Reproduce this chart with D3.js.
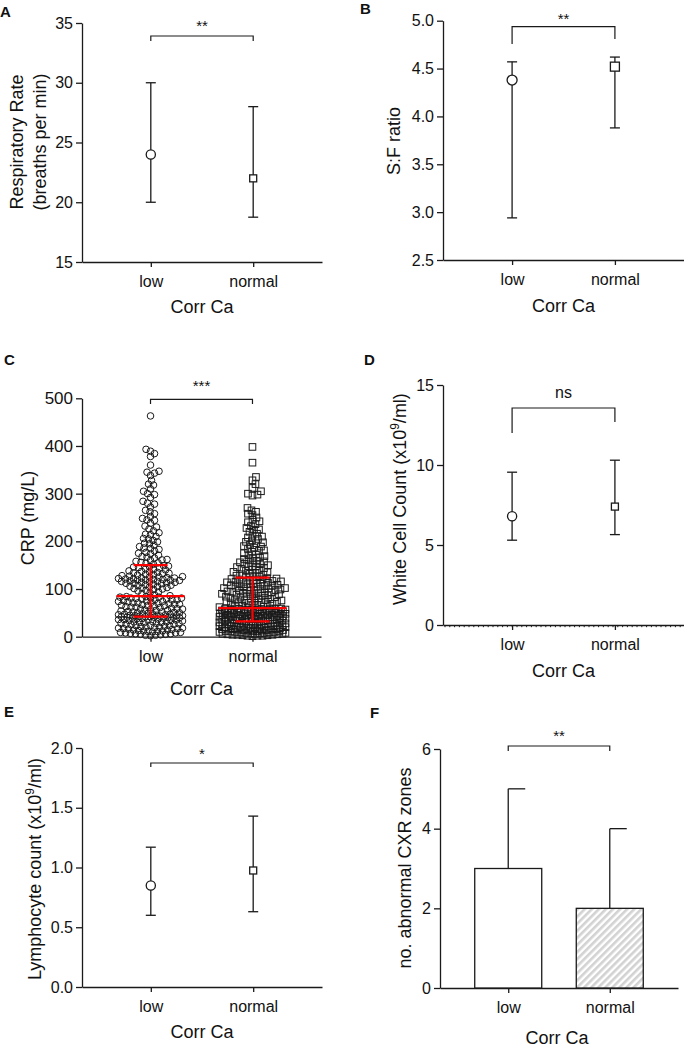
<!DOCTYPE html>
<html><head><meta charset="utf-8">
<script src="https://cdn.jsdelivr.net/npm/d3@7"></script>
<style>
body{margin:0;background:#fff}
svg{display:block}
text{font-family:"Liberation Sans",Arial,Helvetica,sans-serif;fill:#111}
</style>
</head><body>
<svg id="c" width="684" height="1047"></svg>
<script>
// ---------------- DATA ----------------
const categories = ["low", "normal"];
const xTitle = "Corr Ca";
const panelLetters = ["A", "B", "C", "D", "E", "F"];
const sigLabels = ["**", "**", "***", "ns", "*", "**"];

// A: Respiratory rate (median, IQR)
const rrMedian = [24, 22];
const rrLow = [20, 18.75];
const rrHigh = [30, 28];
const rrTicks = [15, 20, 25, 30, 35];

// B: S:F ratio
const sfMedian = [4.38, 4.52];
const sfLow = [2.94, 3.88];
const sfHigh = [4.57, 4.62];
const sfTicks = [2.5, 3.0, 3.5, 4.0, 4.5, 5.0];

// C: CRP individual values
const crpLow = [
  2,3,3,4,5,5,6,6,7,8,8,9,9,10,11,11,12,12,13,14,14,15,16,17,17,18,18,19,20,20,21,22,
  23,23,24,25,26,26,27,28,28,29,30,30,31,31,32,33,34,34,35,35,36,36,37,38,38,39,39,40,
  40,41,41,41,42,
  42,42,43,43,44,44,44,45,45,46,46,47,47,48,48,49,50,50,51,52,52,53,54,55,55,56,57,58,
  58,59,60,61,62,62,63,64,65,65,66,67,68,68,69,70,71,71,72,73,74,74,75,76,77,77,78,79,
  79,80,81,81,82,83,83,84,84,
  86,88,90,92,94,96,97,99,100,101,102,103,104,105,106,107,108,109,110,111,112,112,113,
  114,114,115,116,116,117,118,118,119,119,120,120,121,121,122,123,123,124,125,125,126,
  127,128,129,130,131,132,133,134,135,136,137,138,140,141,142,144,145,146,147,148,149,
  152,154,155,156,158,160,161,162,165,167,168,171,174,175,177,180,183,185,186,189,192,
  195,196,199,202,205,206,210,214,215,218,222,226,230,232,238,244,245,248,252,258,262,
  265,272,278,280,284,292,298,300,305,310,318,320,328,338,343,345,347,360,378,384,389,
  393,463
];
const crpNormal = [
  1,2,2,2,3,3,4,4,4,5,5,6,6,6,7,7,8,8,8,9,9,10,10,10,11,11,12,12,12,13,13,14,14,14,15,
  15,16,16,16,17,17,18,18,18,19,19,20,20,20,21,21,22,22,22,23,23,24,24,24,25,25,26,26,
  26,27,27,28,28,28,29,29,30,30,31,32,
  32,33,33,33,34,34,34,35,35,36,36,36,37,37,38,38,38,38,39,39,40,40,40,41,41,42,42,42,
  43,43,44,44,44,44,45,45,46,46,46,47,47,48,48,48,49,49,50,50,50,50,51,51,52,52,52,53,
  53,54,54,54,55,55,55,56,56,56,57,57,57,58,58,58,59,59,59,
  61,62,63,64,65,66,67,68,69,70,71,72,72,73,74,75,76,76,77,78,79,80,80,81,82,83,84,85,
  85,86,87,88,89,90,90,91,92,93,94,95,95,96,97,98,98,99,100,101,102,102,103,104,105,
  105,106,107,108,109,110,110,111,112,113,114,115,115,116,117,118,119,120,120,121,122,123,
  125,126,127,128,130,131,132,134,135,136,138,140,141,142,144,146,147,148,150,152,153,
  154,156,158,159,160,163,165,166,169,171,172,175,178,180,181,184,187,189,190,193,196,
  198,199,202,205,208,210,212,216,220,224,225,228,232,236,240,242,245,250,255,258,262,
  265,270,296,298,300,305,312,320,328,335,365,398
];
const crpMedian = [85, 60];
const crpQ1 = [42, 32];
const crpQ3 = [150, 124];
const crpTicks = [0, 100, 200, 300, 400, 500];

// D: White cell count
const wccMedian = [6.8, 7.4];
const wccLow = [5.3, 5.65];
const wccHigh = [9.55, 10.3];
const wccTicks = [0, 5, 10, 15];

// E: Lymphocyte count
const lymMedian = [0.85, 0.975];
const lymLow = [0.6, 0.63];
const lymHigh = [1.17, 1.43];
const lymTicks = [0.0, 0.5, 1.0, 1.5, 2.0];

// F: abnormal CXR zones (bar = median, whisker = upper)
const cxrMedian = [3, 2];
const cxrHigh = [5, 4];
const cxrTicks = [0, 2, 4, 6];

// ---------------- LAYOUT ----------------
const svg = d3.select("#c");
const INK = "#1a1a1a";

svg.append("defs").append("pattern")
  .attr("id", "hatch").attr("patternUnits", "userSpaceOnUse")
  .attr("width", 5).attr("height", 5).attr("patternTransform", "rotate(45)")
  .call(p => {
    p.append("rect").attr("width", 5).attr("height", 5).attr("fill", "#fff");
    p.append("rect").attr("width", 2.6).attr("height", 5).attr("fill", "#d2d2d2");
  });

function makePanel(cfg) {
  const g = svg.append("g");
  const y = d3.scaleLinear().domain(cfg.domain).range([cfg.yBot, cfg.yTop]);
  const x = d3.scalePoint().domain(categories).range([cfg.x0, cfg.x1]).padding(0.672);

  const ya = g.append("g").attr("transform", `translate(${cfg.x0},0)`)
    .call(d3.axisLeft(y).tickValues(cfg.ticks).tickSize(6).tickSizeOuter(0).tickPadding(3).tickFormat(cfg.fmt));
  ya.selectAll("path,line").attr("stroke", INK).attr("stroke-width", 1.3);
  ya.selectAll("text").attr("font-size", cfg.tickFont || 16).attr("fill", INK)
    .attr("font-family", '"Liberation Sans",Arial,sans-serif');

  const xa = g.append("g").attr("transform", `translate(0,${cfg.yBot})`)
    .call(d3.axisBottom(x).tickSize(5).tickSizeOuter(0).tickPadding(9));
  xa.selectAll("path,line").attr("stroke", INK).attr("stroke-width", 1.3);
  xa.selectAll("text").attr("font-size", 16).attr("fill", INK)
    .attr("font-family", '"Liberation Sans",Arial,sans-serif');

  g.append("text").attr("x", (cfg.x0 + cfg.x1) / 2 + cfg.xtDx).attr("y", cfg.yBot + cfg.xtDy)
    .attr("text-anchor", "middle").attr("font-size", 18).text(xTitle);

  cfg.ytitle.forEach((line, i) => {
    const t = g.append("text")
      .attr("transform", `translate(${cfg.ytX[i]},${cfg.ytY}) rotate(-90)`)
      .attr("text-anchor", "middle").attr("dy", "0.35em").attr("font-size", 18);
    line.forEach(seg => {
      const ts = t.append("tspan").text(seg.t);
      if (seg.sup) ts.attr("font-size", 12).attr("baseline-shift", "super");
    });
  });

  g.append("text").attr("x", cfg.letter[0]).attr("y", cfg.letter[1])
    .attr("font-family", '"Open Sans",sans-serif').attr("font-weight", 700)
    .attr("font-size", 15).text(cfg.name);

  const xa0 = x(categories[0]), xa1 = x(categories[1]);
  g.append("path")
    .attr("d", `M${xa0},${cfg.br[1]}V${cfg.br[0]}H${xa1}V${cfg.br[2]}`)
    .attr("fill", "none").attr("stroke", INK).attr("stroke-width", 1.2);
  g.append("text").attr("x", (xa0 + xa1) / 2).attr("y", cfg.br[3])
    .attr("text-anchor", "middle").attr("font-size", cfg.sigFont || 15).text(cfg.sig);
  return {g, x, y};
}

function medianIqr(p, med, lo, hi, shapes) {
  const {g, x, y} = p;
  categories.forEach((c, i) => {
    const cx = x(c);
    g.append("line").attr("x1", cx).attr("x2", cx).attr("y1", y(lo[i])).attr("y2", y(hi[i]))
      .attr("stroke", INK).attr("stroke-width", 1.3);
    [lo[i], hi[i]].forEach(v => g.append("line").attr("x1", cx - 5).attr("x2", cx + 5)
      .attr("y1", y(v)).attr("y2", y(v)).attr("stroke", INK).attr("stroke-width", 1.3));
    if (shapes[i] === "circle") {
      g.append("circle").attr("cx", cx).attr("cy", y(med[i])).attr("r", shapes.r)
        .attr("fill", "#fff").attr("stroke", INK).attr("stroke-width", 1.3);
    } else {
      const s = shapes.s;
      g.append("rect").attr("x", cx - s / 2).attr("y", y(med[i]) - s / 2).attr("width", s).attr("height", s)
        .attr("fill", "#fff").attr("stroke", INK).attr("stroke-width", 1.3);
    }
  });
}

// ---------- A ----------
const pA = makePanel({name: "A", domain: [15, 35], ticks: rrTicks, fmt: d3.format("d"),
  x0: 82, x1: 322, yTop: 23, yBot: 262, xtDx: 0, xtDy: 51,
  ytitle: [[{t: "Respiratory Rate"}], [{t: "(breaths per min)"}]], ytX: [17, 40], ytY: 142,
  letter: [0, 17], br: [36, 41, 41, 31], sig: sigLabels[0]});
medianIqr(pA, rrMedian, rrLow, rrHigh, Object.assign(["circle", "square"], {r: 4.6, s: 7}));

// ---------- B ----------
const pB = makePanel({name: "B", domain: [2.5, 5], ticks: sfTicks, fmt: d3.format(".1f"),
  x0: 443, x1: 684, yTop: 20.7, yBot: 260, xtDx: 0, xtDy: 52,
  ytitle: [[{t: "S:F ratio"}]], ytX: [394], ytY: 141,
  letter: [360, 14], br: [26.7, 44, 39, 24], sig: sigLabels[1]});
medianIqr(pB, sfMedian, sfLow, sfHigh, Object.assign(["circle", "square"], {r: 5, s: 9}));

// ---------- C ----------
const pC = makePanel({name: "C", domain: [0, 500], ticks: crpTicks, fmt: d3.format("d"), tickFont: 17,
  x0: 82, x1: 321, yTop: 398.3, yBot: 636.7, xtDx: 0, xtDy: 58,
  ytitle: [[{t: "CRP (mg/L)"}]], ytX: [28], ytY: 518,
  letter: [4, 365], br: [399.3, 404, 404, 391], sig: sigLabels[2]});

// beeswarm layout: ascending value, nearest free offset, capped width (overlap allowed when full)
function swarm(values, yScale, cx, minDist, maxHalf) {
  const pts = values.map(v => ({v, y: yScale(v), off: 0})).sort((a, b) => b.y - a.y);
  const placed = [];
  pts.forEach(p => {
    let best = 0, bestScore = -1;
    for (let k = 0; ; k++) {
      const off = k === 0 ? 0 : (k % 2 ? 1 : -1) * Math.ceil(k / 2) * 0.5;
      if (Math.abs(off) > maxHalf) break;
      let md = Infinity;
      for (const q of placed) {
        const dy = q.y - p.y;
        if (Math.abs(dy) >= minDist) continue;
        const dx = q.off - off;
        md = Math.min(md, Math.sqrt(dx * dx + dy * dy));
      }
      if (md >= minDist) { best = off; break; }
      if (md > bestScore) { bestScore = md; best = off; }
    }
    p.off = best;
    placed.push(p);
  });
  return pts.map(p => ({x: cx + p.off, y: p.y}));
}
{
  const {g, x, y} = pC;
  const lowPts = swarm(crpLow, y, x("low"), 4.6, 32);
  g.append("g").selectAll("circle").data(lowPts).join("circle")
    .attr("cx", d => d.x).attr("cy", d => d.y).attr("r", 3.3)
    .attr("fill", "none").attr("stroke", INK).attr("stroke-width", 1);
  const normPts = swarm(crpNormal, y, x("normal"), 4.6, 33);
  g.append("g").selectAll("rect").data(normPts).join("rect")
    .attr("x", d => d.x - 3.3).attr("y", d => d.y - 3.3).attr("width", 6.6).attr("height", 6.6)
    .attr("fill", "none").attr("stroke", INK).attr("stroke-width", 1);
  categories.forEach((c, i) => {
    const cx = x(c);
    const red = "#ff0000";
    g.append("line").attr("x1", cx).attr("x2", cx).attr("y1", y(crpQ1[i])).attr("y2", y(crpQ3[i]))
      .attr("stroke", red).attr("stroke-width", 2.2);
    g.append("line").attr("x1", cx - 34).attr("x2", cx + 34).attr("y1", y(crpMedian[i])).attr("y2", y(crpMedian[i]))
      .attr("stroke", red).attr("stroke-width", 2.2);
    [crpQ1[i], crpQ3[i]].forEach(v => g.append("line").attr("x1", cx - 17).attr("x2", cx + 17)
      .attr("y1", y(v)).attr("y2", y(v)).attr("stroke", red).attr("stroke-width", 2.2));
  });
}

// ---------- D ----------
const pD = makePanel({name: "D", domain: [0, 15], ticks: wccTicks, fmt: d3.format("d"),
  x0: 443, x1: 684, yTop: 385, yBot: 625, xtDx: 0, xtDy: 52,
  ytitle: [[{t: "White Cell Count (x10"}, {t: "9", sup: true}, {t: "/ml)"}]], ytX: [400], ytY: 499,
  letter: [364, 365], br: [408, 433, 422, 398], sig: sigLabels[3], sigFont: 16});
{
  const {g, y} = pD;
  g.append("g").selectAll("line").data(d3.range(445, 684, 4.8)).join("line")
    .attr("x1", d => d).attr("x2", d => d).attr("y1", y(0)).attr("y2", y(0) + 2.2)
    .attr("stroke", INK).attr("stroke-width", 1);
}
medianIqr(pD, wccMedian, wccLow, wccHigh, Object.assign(["circle", "square"], {r: 4.6, s: 7}));

// ---------- E ----------
const pE = makePanel({name: "E", domain: [0, 2], ticks: lymTicks, fmt: d3.format(".1f"),
  x0: 82, x1: 322, yTop: 748, yBot: 987, xtDx: 0, xtDy: 51,
  ytitle: [[{t: "Lymphocyte count (x10"}, {t: "9", sup: true}, {t: "/ml)"}]], ytX: [35], ytY: 869,
  letter: [4, 717], br: [763, 767, 767, 759], sig: sigLabels[4]});
medianIqr(pE, lymMedian, lymLow, lymHigh, Object.assign(["circle", "square"], {r: 4.6, s: 7}));

// ---------- F ----------
const pF = makePanel({name: "F", domain: [0, 6], ticks: cxrTicks, fmt: d3.format("d"),
  x0: 440, x1: 678, yTop: 749, yBot: 988, xtDx: -2, xtDy: 56,
  ytitle: [[{t: "no. abnormal CXR zones"}]], ytX: [405], ytY: 868,
  letter: [370, 718], br: [746, 751, 751, 741], sig: sigLabels[5]});
{
  const {g, x, y} = pF;
  const bw = 67;
  categories.forEach((c, i) => {
    const cx = x(c);
    g.append("line").attr("x1", cx).attr("x2", cx).attr("y1", y(cxrMedian[i])).attr("y2", y(cxrHigh[i]))
      .attr("stroke", INK).attr("stroke-width", 1.3);
    g.append("line").attr("x1", cx).attr("x2", cx + 17).attr("y1", y(cxrHigh[i])).attr("y2", y(cxrHigh[i]))
      .attr("stroke", INK).attr("stroke-width", 1.3);
  });
  g.append("g").selectAll("rect").data(categories).join("rect")
    .attr("x", c => x(c) - bw / 2).attr("width", bw)
    .attr("y", (c, i) => y(cxrMedian[i])).attr("height", (c, i) => y(0) - y(cxrMedian[i]))
    .attr("fill", (c, i) => i === 0 ? "#fff" : "url(#hatch)")
    .attr("stroke", INK).attr("stroke-width", 1.3);
}
</script>
</body></html>
